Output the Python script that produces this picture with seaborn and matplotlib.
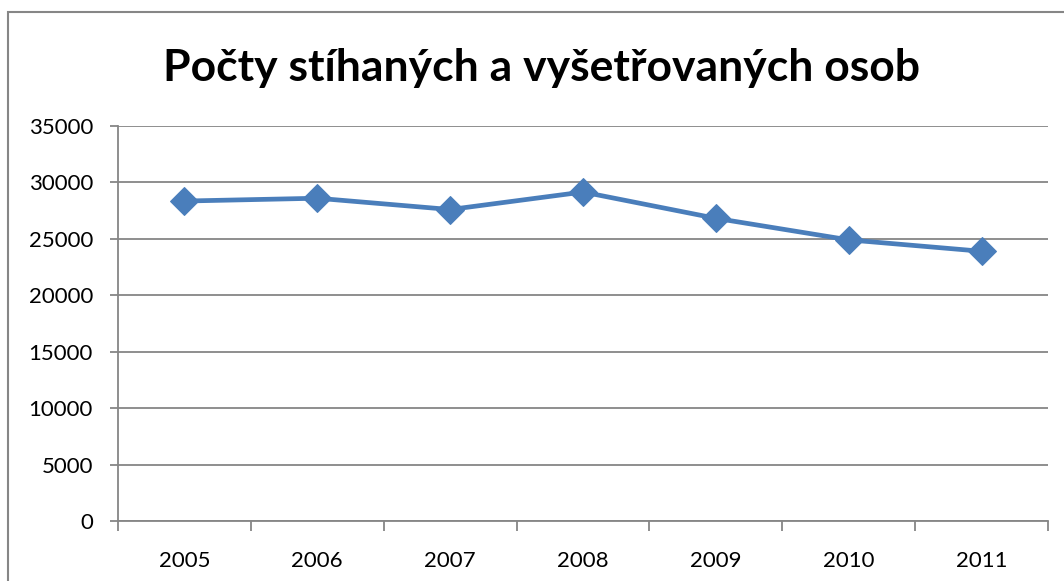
import pandas as pd
import matplotlib
matplotlib.use('Agg')
import matplotlib.pyplot as plt
import seaborn as sns
from matplotlib.patches import Rectangle

# data
years = ['2005', '2006', '2007', '2008', '2009', '2010', '2011']
persons = [28350, 28600, 27600, 29150, 26820, 24910, 23900]
y_ticks = [0, 5000, 10000, 15000, 20000, 25000, 30000, 35000]

title = 'Počty stíhaných a vyšetřovaných osob'

sns.set_style('white')
plt.rcParams['font.family'] = ['Lato', 'DejaVu Sans']

data = pd.DataFrame({'Rok': years, 'Osoby': persons})

fig = plt.figure(figsize=(10.64, 5.81), dpi=100)
ax = fig.add_axes([118 / 1064, 1 - 521 / 581, (1048 - 118) / 1064, (521 - 126) / 581])

# outer chart frame
fig.patches.append(Rectangle((8 / 1064, -0.05), 1.1, 1 - 12 / 581 + 0.05,
                             transform=fig.transFigure, fill=False,
                             edgecolor='#868686', linewidth=1.5))

sns.lineplot(data=data, x='Rok', y='Osoby', ax=ax, color='#4A7EBB', linewidth=3.4,
             marker='D', markersize=14, markeredgecolor='#4A7EBB', sort=False)

# set format for plot
ax.set_ylim(0, 35000)
ax.set_xlim(-0.5, len(years) - 0.5)
ax.set_yticks(y_ticks)
ax.set_xticks(range(len(years)))
ax.set_xticklabels(years)
ax.set_xticks([i - 0.5 for i in range(len(years) + 1)], minor=True)
ax.grid(True, axis='y', color='#868686', linewidth=1.3)
ax.set_axisbelow(True)
for side in ['top', 'right']:
    ax.spines[side].set_visible(False)
for side in ['left', 'bottom']:
    ax.spines[side].set_color('#868686')
    ax.spines[side].set_linewidth(1.3)
ax.tick_params(axis='y', which='major', left=True, length=6, width=1.3, color='#868686',
               labelsize=16, labelcolor='black', pad=12)
ax.tick_params(axis='x', which='major', bottom=False, labelsize=16, labelcolor='black', pad=18)
ax.tick_params(axis='x', which='minor', bottom=True, length=7, width=1.3, color='#868686')
ax.set_xlabel('')
ax.set_ylabel('')

fig.text(0.509, 0.883, title, ha='center', va='center', fontsize=32, fontweight='bold',
         color='black')

plt.savefig('out.png', dpi=100)
plt.close()
